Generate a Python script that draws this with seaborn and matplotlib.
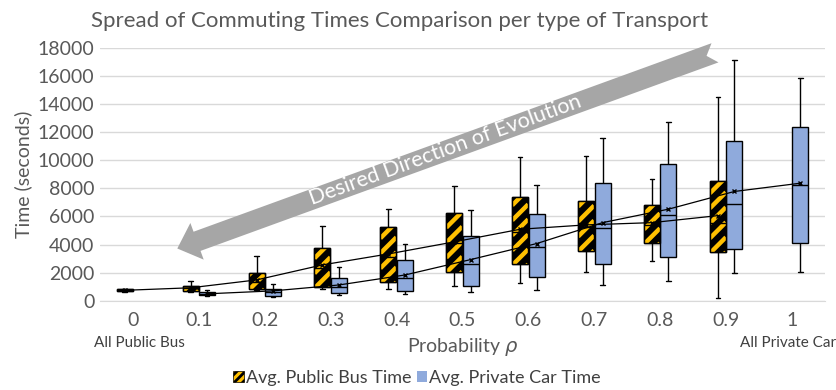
import numpy as np
import pandas as pd
import matplotlib
matplotlib.use("Agg")
import matplotlib.pyplot as plt
import seaborn as sns
from matplotlib.patches import Polygon, Patch
from matplotlib.collections import LineCollection

# ---- data (seconds) ----
probs = ["0", "0.1", "0.2", "0.3", "0.4", "0.5", "0.6", "0.7", "0.8", "0.9", "1"]

# Avg. Public Bus Time (no data at p = 1)
bus_low = [630, 620, 740, 810, 830, 1030, 1240, 2030, 2830, 170]
bus_q1 = [670, 710, 810, 955, 1310, 2070, 2590, 3570, 4090, 3450]
bus_med = [740, 900, 1300, 2300, 3140, 4100, 4900, 5230, 5400, 5500]
bus_q3 = [810, 1050, 2000, 3780, 5230, 6280, 7370, 7090, 6850, 8520]
bus_high = [850, 1400, 3190, 5330, 6520, 8180, 10230, 10320, 8700, 14480]
bus_mean = [740, 920, 1480, 2550, 3330, 4190, 5090, 5400, 5560, 6060]

# Avg. Private Car Time (no data at p = 0)
car_low = [360, 240, 385, 480, 600, 740, 1120, 1430, 2000, 2050]
car_q1 = [400, 360, 530, 670, 1070, 1720, 2590, 3120, 3710, 4090]
car_med = [500, 640, 980, 1600, 2590, 3810, 5160, 6110, 6900, 8230]
car_q3 = [620, 860, 1640, 2880, 4640, 6210, 8350, 9750, 11410, 12340]
car_high = [760, 1190, 2430, 4070, 6490, 8250, 11560, 12720, 17120, 15860]
car_mean = [490, 700, 1120, 1830, 2930, 4070, 5560, 6520, 7780, 8370]

bus_name = "Avg. Public Bus Time"
car_name = "Avg. Private Car Time"
bus_color = "#ffc000"
car_color = "#8faadc"

# five-number summaries as rows: with whis=(0, 100) the boxes reproduce them exactly
rows = []
for i, p in enumerate(probs[:-1]):
    for v in (bus_low[i], bus_q1[i], bus_med[i], bus_q3[i], bus_high[i]):
        rows.append({"prob": p, "time": v, "series": bus_name})
for i, p in enumerate(probs[1:]):
    for v in (car_low[i], car_q1[i], car_med[i], car_q3[i], car_high[i]):
        rows.append({"prob": p, "time": v, "series": car_name})
df = pd.DataFrame(rows)

sns.set_style("white")
plt.rcParams["font.family"] = ["Lato", "DejaVu Sans"]

W, H = 837, 390
fig = plt.figure(figsize=(W / 100, H / 100), dpi=100)
ax = fig.add_axes([100 / W, (H - 300.7) / H, 725 / W, 252.7 / H])

sns.boxplot(data=df, x="prob", y="time", hue="series", order=probs,
            hue_order=[bus_name, car_name], palette=[bus_color, car_color],
            whis=(0, 100), width=0.5, gap=0.03, saturation=1,
            linewidth=1, linecolor="black", showfliers=False,
            legend=False, ax=ax)

ax.set_xlim(-0.5, len(probs) - 0.5)
ax.set_ylim(0, 18000)

# shorter whisker caps
for line in ax.lines:
    xs = np.asarray(line.get_xdata(), dtype=float)
    ys = np.asarray(line.get_ydata(), dtype=float)
    if len(xs) == 2 and ys[0] == ys[1] and 0 < abs(xs[1] - xs[0]) < 0.15:
        c = xs.mean()
        line.set_xdata([c - 0.035, c + 0.035])

# black boxes with wide yellow diagonal stripes (Excel pattern fill)
period = 15.0
for patch in list(ax.patches):
    if matplotlib.colors.to_hex(patch.get_facecolor()) != bus_color:
        continue
    patch.set_facecolor("black")
    px = ax.transData.transform(patch.get_path().vertices)
    x0, x1 = px[:, 0].min(), px[:, 0].max()
    y0, y1 = px[:, 1].min(), px[:, 1].max()
    segs = []
    for c in np.arange(y0 - (x1 - x0), y1 + period, period):
        seg = np.array([[x0, c], [x1, c + (x1 - x0)]])
        segs.append(ax.transData.inverted().transform(seg))
    lc = LineCollection(segs, colors=bus_color, linewidths=3.2,
                        transform=ax.transData, zorder=2.05)
    ax.add_collection(lc, autolim=False)
    lc.set_clip_path(patch)
    # outline on top of the stripes
    ax.add_patch(Polygon(patch.get_path().vertices, closed=True, fill=False,
                         edgecolor="black", lw=1, zorder=2.1))

# mean lines with x markers
slot = 0.125
bus_x = np.arange(len(bus_mean)) - slot
car_x = np.arange(1, len(car_mean) + 1) + slot
for xs, ys in ((bus_x, bus_mean), (car_x, car_mean)):
    sns.lineplot(x=xs, y=ys, color="black", lw=0.9, marker="x",
                 markersize=3.5, markeredgewidth=1, markeredgecolor="black",
                 zorder=5, ax=ax)

ax.set_xlim(-0.5, len(probs) - 0.5)
ax.set_ylim(0, 18000)
ax.set_yticks(np.arange(0, 18001, 2000))
ax.yaxis.grid(True, color="#d9d9d9", lw=1)
ax.set_axisbelow(True)
for s in ["top", "right", "left"]:
    ax.spines[s].set_visible(False)
ax.spines["bottom"].set_color("#d9d9d9")
ax.tick_params(axis="both", length=0, labelsize=14, labelcolor="#595959")
ax.tick_params(axis="x", pad=8)
ax.tick_params(axis="y", pad=4)
ax.set_xlabel("")
ax.set_ylabel("Time (seconds)", fontsize=14, color="#595959", labelpad=4)

fig.text(400 / W, 1 - 21 / H, "Spread of Commuting Times Comparison per type of Transport",
         ha="center", va="center", fontsize=16, color="#595959")
fig.text(139 / W, 1 - 343 / H, "All Public Bus", ha="center", va="center",
         fontsize=11, color="#404040", family=["Liberation Sans Narrow", "Lato"])
fig.text(788 / W, 1 - 343 / H, "All Private Car", ha="center", va="center",
         fontsize=11, color="#404040", family=["Liberation Sans Narrow", "Lato"])
fig.text(463 / W, 1 - 347 / H, r"Probability $\rho$", ha="center", va="center",
         fontsize=14, color="#595959")

# big grey arrow (figure pixels, y measured from top)
tail = np.array([715.0, 52.8])
tip = np.array([177.3, 248.5])
u = (tip - tail) / np.linalg.norm(tip - tail)
n = np.array([-u[1], u[0]])
shaft_hw, head_hw, head_len, notch = 10.2, 19.5, 21.0, 9.0
base = tip - u * head_len
pts = [tip, base + n * head_hw, base + n * shaft_hw, tail + n * shaft_hw,
       tail + u * notch, tail - n * shaft_hw, base - n * shaft_hw, base - n * head_hw]
pts = [(p[0] / W, 1 - p[1] / H) for p in pts]
fig.patches.append(Polygon(pts, closed=True, transform=fig.transFigure,
                           facecolor="#a6a6a6", edgecolor="none", zorder=10))
angle = np.degrees(np.arctan2(-(tail - tip)[1], (tail - tip)[0]))
fig.text(445 / W, 1 - 150 / H, "Desired Direction of Evolution", ha="center",
         va="center", rotation=angle, rotation_mode="anchor", fontsize=15.5,
         color="white", zorder=11)

plt.rcParams["hatch.linewidth"] = 2.0
handles = [Patch(facecolor=bus_color, edgecolor="black", hatch="////", lw=0.5),
           Patch(facecolor=car_color, edgecolor="none")]
fig.legend(handles, [bus_name, car_name], loc="center", bbox_to_anchor=(417 / W, 1 - 378 / H),
           ncol=2, frameon=False, fontsize=13, handlelength=0.6, handleheight=0.6,
           handletextpad=0.1, columnspacing=0.3, labelcolor="#404040")

fig.savefig("out.png", dpi=100)
